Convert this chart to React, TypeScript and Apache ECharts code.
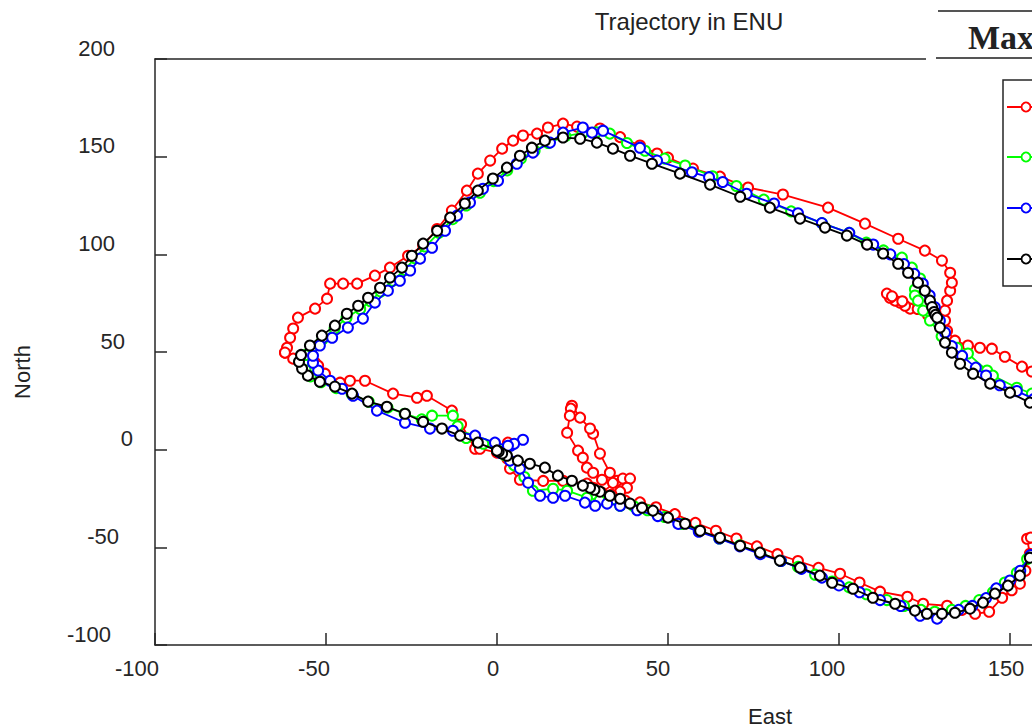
import React, { useEffect, useRef } from "react";
import * as echarts from "echarts";

// [East, North] samples for each trajectory
const redTrack: number[][] = [
  [-62.0, 49.7], [-59.6, 46.6], [-56.1, 45.0], [-53.2, 44.5], [-52.3, 43.0], [-50.3, 38.9], [-45.9, 34.3],
  [-43.0, 35.3], [-38.6, 35.3], [-30.4, 28.7], [-23.4, 26.6], [-20.5, 27.6], [-13.2, 20.0], [-10.5, 13.0],
  [-6.4, 0.5], [-5.0, 0.5], [0, -1.5], [3.2, 3.6], [3.0, -4.5], [3.8, -9.7], [6.7, -15.4], [13.5, -16.0],
  [19.3, -15.9], [26.3, -17.4], [28.1, -19.5], [30.7, -22.0],
  [35.1, -15.9], [33.0, -11.8], [30.1, -2.0], [28.1, 8.2], [27.2, 10.8], [24.3, 16.4], [21.9, 22.5],
  [21.6, 21.0], [21.3, 17.4], [20.5, 8.7], [23.7, -0.5], [25.1, -4.1], [26.3, -9.2], [28.1, -11.8],
  [30.7, -15.4], [33.9, -17.0], [36.8, -14.8], [38.9, -14.8], [38.0, -19.5], [36.0, -21.5], [33.5, -23.0],
  [37.5, -26.1], [41.8, -27.0], [46.5, -29.5], [52.0, -33.0], [58.0, -37.5], [64.0, -41.5], [70.0, -45.5],
  [76.0, -49.5], [82.0, -53.5], [88.0, -57.0], [94.0, -60.5], [100.3, -63.5], [106.0, -68.0], [112.0, -72.7],
  [120.0, -75.3], [124.6, -78.9], [131.6, -79.9], [136.0, -82.0], [139.8, -84.0], [143.9, -83.0],
  [147.7, -75.8], [150.5, -72.0], [152.9, -68.6], [154.5, -62.0], [155.8, -53.3], [155.0, -45.6], [156.1, -45.0],
  [163.0, -30.0], [168.0, -10.0], [166.0, 15.0], [161.0, 35.0],
  [156.4, 40.0], [153.5, 42.5], [148.5, 47.6], [144.7, 51.7], [141.2, 52.2], [137.7, 53.3], [133.9, 55.8],
  [131.6, 60.9], [131.0, 66.1],
  [126.0, 69.0], [120.8, 72.2], [119.3, 73.7], [117.8, 75.3], [116.4, 76.3], [114.9, 77.8], [114.0, 79.9],
  [115.5, 78.5], [118.5, 76.0], [123.0, 72.0], [128.0, 69.0],
  [131.0, 71.2], [131.6, 76.3], [132.5, 81.4], [133.0, 85.5], [132.5, 90.6], [130.1, 96.8], [125.1, 101.9],
  [117.3, 108.0], [107.6, 115.7], [96.8, 123.9], [83.6, 130.6], [73.4, 134.2], [65.2, 139.8], [57.3, 143.9],
  [50.0, 149.5], [46.8, 151.6], [41.8, 155.7], [36.0, 160.0], [30.1, 164.4], [23.4, 165.4], [19.3, 166.9],
  [14.9, 164.9], [11.7, 161.8], [7.6, 160.8], [4.7, 158.2], [1.5, 154.1], [-2.0, 148.0], [-5.6, 141.3],
  [-8.8, 132.6], [-13.2, 122.4], [-17.5, 113.0], [-21.6, 104.5], [-26.0, 99.3], [-31.3, 93.2], [-35.7, 89.1],
  [-40.9, 85.0], [-45.0, 85.0], [-48.8, 85.0], [-49.7, 77.3], [-53.2, 72.2], [-58.2, 67.6], [-59.6, 62.0],
  [-60.5, 57.3], [-61.4, 52.2], [-62.0, 49.7],
];

const greenTrack: number[][] = [
  [0, 0], [-4.0, 3.0], [-9.0, 6.0], [-11.5, 12.0], [-12.9, 17.4], [-19.0, 17.4], [-22.0, 15.5], [-27.0, 18.4],
  [-32.0, 21.5], [-37.5, 24.5], [-42.5, 28.5], [-47.0, 31.5], [-51.5, 34.5], [-54.5, 37.5], [-56.0, 41.0],
  [-56.5, 45.0], [-56.0, 48.5], [-54.0, 52.5], [-51.0, 56.5], [-47.5, 62.0], [-44.0, 67.5], [-40.0, 72.0],
  [-37.0, 76.0], [-34.0, 81.0], [-30.5, 86.5], [-27.0, 92.0], [-24.0, 98.0], [-21.0, 104.0], [-17.0, 111.0],
  [-13.0, 118.0], [-9.0, 125.0], [-5.0, 131.5], [-1.0, 137.5], [3.0, 143.0], [7.0, 149.0], [11.0, 153.0],
  [15.0, 157.0], [20.0, 160.5], [25.0, 162.0], [29.0, 162.5], [33.0, 161.8], [38.0, 157.0], [43.3, 153.0],
  [49.0, 149.0], [55.0, 145.5], [63.0, 140.0], [70.0, 135.0], [78.0, 128.0], [86.0, 122.0], [95.0, 116.0],
  [103.0, 111.0], [108.0, 106.0], [113.0, 102.0], [118.4, 98.3], [121.3, 93.2], [123.7, 87.6], [122.2, 82.0],
  [122.2, 78.9], [123.1, 76.3], [124.6, 71.2], [126.6, 66.1], [130.0, 58.0], [134.5, 52.2], [137.7, 49.2],
  [143.3, 40.5], [145.0, 37.9], [152.0, 31.7], [156.4, 28.7],
  [164.0, 22.0], [171.0, 10.0], [174.0, -5.0], [173.0, -25.0], [168.0, -42.0], [160.0, -50.0],
  [155.0, -56.0], [152.0, -63.0], [148.5, -68.0], [145.0, -73.0], [141.0, -77.0], [137.0, -80.0],
  [133.0, -82.0], [128.0, -83.0], [124.0, -82.0], [119.0, -80.0], [114.0, -77.0], [108.0, -74.0],
  [103.0, -70.5], [98.0, -67.5], [93.0, -64.0], [88.0, -60.0], [83.0, -57.0], [77.0, -53.0], [71.0, -49.0],
  [65.0, -45.5], [59.0, -41.5], [54.0, -38.0], [49.0, -34.5], [44.0, -31.0], [40.0, -29.0], [36.0, -28.7],
  [30.0, -26.0], [26.3, -24.6], [20.5, -21.0], [16.4, -20.0], [10.5, -21.0], [8.0, -14.0], [5.0, -8.0],
  [2.5, -3.0], [0, 0],
];

const blueTrack: number[][] = [
  [0.9, -1.5], [2.0, -1.0], [4.0, 2.0], [7.6, 5.1], [5.0, 3.0], [3.2, 2.0], [-0.6, 3.6], [-6.4, 7.2],
  [-12.9, 9.7], [-19.6, 10.8], [-26.9, 13.8], [-35.1, 20.0], [-42.1, 27.6], [-45.3, 31.2], [-48.8, 35.3],
  [-52.3, 40.5], [-53.8, 44.5], [-53.8, 48.1], [-51.8, 53.3], [-48.2, 57.3], [-43.6, 62.5], [-39.2, 67.1],
  [-35.7, 75.3], [-31.9, 81.4], [-28.4, 86.5], [-25.4, 91.7], [-22.5, 97.8], [-19.0, 103.4], [-15.2, 112.1],
  [-11.7, 119.8], [-7.9, 126.5], [-4.1, 133.6], [0.3, 137.7], [5.8, 146.4], [10.5, 152.1], [15.5, 157.2],
  [19.3, 162.3], [25.1, 164.9], [27.8, 162.3], [31.0, 163.3], [41.8, 154.6], [46.8, 148.0], [57.0, 142.0],
  [62.0, 139.5], [66.0, 137.0], [73.0, 131.0], [81.0, 126.0], [88.0, 121.0], [95.0, 116.0], [103.0, 111.0],
  [110.0, 105.0], [115.0, 100.0], [119.0, 95.0], [122.0, 90.0], [124.5, 85.0], [126.5, 79.0], [128.0, 73.0],
  [129.5, 66.0], [131.0, 60.0], [133.0, 53.0], [136.0, 48.0], [140.0, 42.0], [143.0, 38.0], [147.0, 33.0],
  [152.0, 30.0], [157.0, 26.0],
  [165.0, 18.0], [172.0, 6.0], [175.0, -10.0], [174.0, -28.0], [168.0, -44.0], [161.0, -50.0],
  [156.0, -54.0], [153.0, -62.0], [150.0, -67.0], [146.0, -71.0], [143.0, -76.0], [139.0, -80.0],
  [135.0, -82.0], [128.7, -86.5], [123.7, -85.0], [118.0, -80.0], [112.0, -77.0], [106.0, -73.0],
  [100.0, -69.5], [95.0, -65.5], [89.0, -61.0], [83.0, -57.0], [77.0, -53.5], [71.0, -49.5], [65.0, -45.5],
  [59.0, -42.0], [53.0, -38.0], [47.0, -34.0], [41.0, -31.0], [36.0, -28.7], [32.2, -27.6], [28.7, -28.7],
  [25.7, -27.1], [19.9, -23.6], [16.4, -24.6], [12.6, -23.6], [9.1, -16.9], [6.7, -9.7], [3.8, -5.6],
  [0.9, -1.5],
];

const blackTrack: number[][] = [
  [0, -0.5], [-5.6, 3.6], [-10.8, 7.2], [-16.1, 10.8], [-21.6, 14.3], [-26.9, 18.4], [-32.2, 22.0],
  [-37.7, 24.6], [-42.4, 28.7], [-47.4, 32.3], [-51.8, 34.8], [-55.3, 37.9], [-57.0, 41.5], [-57.9, 45.0],
  [-57.3, 48.5], [-54.7, 53.3], [-51.2, 58.4], [-47.4, 63.5], [-43.9, 69.6], [-40.6, 73.7], [-37.7, 77.8],
  [-34.2, 82.9], [-31.3, 88.1], [-27.8, 93.2], [-24.9, 99.3], [-21.6, 105.5], [-17.5, 112.1], [-13.7, 118.8],
  [-9.4, 126.0], [-5.6, 132.6], [-1.2, 138.8], [2.9, 144.4], [6.7, 150.5], [10.2, 154.6], [14.0, 158.2],
  [19.3, 159.8], [24.3, 159.2], [29.2, 157.2], [33.9, 154.1], [38.9, 150.5], [45.3, 146.4], [53.5, 141.3],
  [62.3, 135.7], [71.1, 129.5], [79.8, 123.9], [88.6, 118.3], [95.9, 113.7], [102.3, 109.6], [108.2, 105.0],
  [112.9, 100.4], [117.3, 95.2], [120.2, 90.6], [123.1, 85.5], [125.1, 81.4], [126.6, 76.3], [127.2, 73.0],
  [127.8, 70.5], [128.2, 69.0], [128.7, 67.6], [129.5, 62.5], [131.0, 54.8], [133.0, 49.7], [135.4, 44.0],
  [139.2, 38.9], [144.2, 33.8], [150.0, 29.2], [155.8, 24.1],
  [163.0, 18.0], [170.0, 8.0], [175.0, -5.0], [175.0, -20.0], [172.0, -35.0], [165.0, -46.0], [160.0, -50.0],
  [155.8, -55.3], [152.9, -64.5], [149.4, -69.6], [145.6, -73.7], [142.1, -78.3], [138.3, -81.4],
  [133.9, -83.5], [130.1, -84.0], [125.7, -84.0], [122.2, -82.4], [116.4, -78.9], [109.9, -75.8],
  [104.1, -71.2], [98.0, -68.1], [94.4, -64.5], [88.6, -60.4], [82.7, -56.8], [76.9, -52.7], [71.1, -49.2],
  [65.2, -45.1], [59.4, -41.5], [55.0, -37.9], [50.0, -34.8], [45.6, -31.2], [42.4, -29.7], [38.9, -27.6],
  [36.0, -25.1], [33.0, -23.6], [30.1, -21.5], [28.5, -20.5], [27.2, -19.5], [25.1, -18.4], [21.9, -15.9],
  [17.8, -13.3], [14.0, -9.2], [9.6, -7.2], [6.1, -5.6], [2.9, -3.1], [1.5, -2.0], [0.5, -1.0], [0, -0.5],
];

const seriesNames = ["Trajectory 1", "Trajectory 2", "Trajectory 3", "Trajectory 4"];
const seriesColors = ["#ff0000", "#00ff00", "#0000ff", "#000000"];
const tracks = [redTrack, greenTrack, blueTrack, blackTrack];

// tick labels shown, with the horizontal shifts of the tick texts as drawn in the reference
const xLabelShift: Record<string, number> = { "-100": 18, "-50": 12, "0": 4, "50": 10, "100": 12, "150": 4 };
const yLabelPadRight: Record<string, number> = { "200": 18, "150": 18, "100": 18, "50": 8, "0": 0, "-50": 14, "-100": 22 };

const FONT = "'Liberation Sans', Arial, Helvetica, sans-serif";
const AXIS = "#262626";

export default function App() {
  const ref = useRef<HTMLDivElement>(null);
  useEffect(() => {
    const chart = echarts.init(ref.current!, null, { renderer: "svg" });
    const legendYs = [107, 157, 208, 259];
    const legendGraphics: any[] = [
      {
        type: "rect",
        shape: { x: 1003, y: 80, width: 120, height: 206 },
        style: { fill: "#fff", stroke: AXIS, lineWidth: 1.5 },
        z: 10,
      },
    ];
    legendYs.forEach((y, i) => {
      legendGraphics.push({
        type: "line",
        shape: { x1: 1007, y1: y, x2: 1045, y2: y },
        style: { stroke: seriesColors[i], lineWidth: 1.8 },
        z: 11,
      });
      legendGraphics.push({
        type: "circle",
        shape: { cx: 1026, cy: y, r: 4.5 },
        style: { fill: "#fff", stroke: seriesColors[i], lineWidth: 1.8 },
        z: 12,
      });
    });

    const xRich: any = {};
    const xKeys = Object.keys(xLabelShift);
    xKeys.forEach((k, i) => {
      xRich["x" + i] = { padding: [0, 2 * xLabelShift[k], 0, 0], fontSize: 22, fontFamily: FONT, color: AXIS };
    });
    const yRich: any = {};
    const yKeys = Object.keys(yLabelPadRight);
    yKeys.forEach((k, i) => {
      yRich["y" + i] = { padding: [0, yLabelPadRight[k], 0, 0], fontSize: 22, fontFamily: FONT, color: AXIS };
    });

    chart.setOption({
      animation: false,
      backgroundColor: "#fff",
      grid: {
        left: 155,
        top: 59,
        right: -149,
        bottom: 81,
        containLabel: false,
        outerBoundsMode: "none",
      },
      xAxis: [
        {
          type: "value",
          min: -100,
          max: 200,
          interval: 50,
          position: "bottom",
          axisLine: { show: true, onZero: false, lineStyle: { color: AXIS, width: 1.5 } },
          axisTick: { show: true, inside: true, length: 12, lineStyle: { color: AXIS, width: 1.5 } },
          axisLabel: {
            margin: 12,
            formatter: (v: number) => {
              const idx = xKeys.indexOf(String(v));
              return idx >= 0 ? `{x${idx}|${v}}` : "";
            },
            rich: xRich,
            fontSize: 22,
            fontFamily: FONT,
            color: AXIS,
          },
          splitLine: { show: false },
        },
        {
          type: "value",
          min: -100,
          max: 200,
          interval: 50,
          position: "top",
          axisLine: { show: true, onZero: false, lineStyle: { color: AXIS, width: 1.5 } },
          axisTick: { show: false },
          axisLabel: { show: false },
          splitLine: { show: false },
        },
      ],
      yAxis: {
        type: "value",
        min: -100,
        max: 200,
        interval: 50,
        axisLine: { show: true, onZero: false, lineStyle: { color: AXIS, width: 1.5 } },
        axisTick: { show: true, inside: true, length: 12, lineStyle: { color: AXIS, width: 1.5 } },
        axisLabel: {
          margin: 22,
          verticalAlign: "bottom",
          formatter: (v: number) => {
            const idx = yKeys.indexOf(String(v));
            return idx >= 0 ? `{y${idx}|${v}}` : String(v);
          },
          rich: yRich,
          fontSize: 22,
          fontFamily: FONT,
          color: AXIS,
        },
        splitLine: { show: false },
      },
      series: tracks.map((t, i) => ({
        name: seriesNames[i],
        type: "line",
        data: t,
        xAxisIndex: 0,
        symbol: "emptyCircle",
        symbolSize: 10,
        showAllSymbol: true,
        clip: true,
        lineStyle: { color: seriesColors[i], width: 1.8 },
        itemStyle: { color: seriesColors[i], borderColor: seriesColors[i], borderWidth: 1.8 },
        z: 2 + i,
      })),
      graphic: [
        {
          type: "text",
          x: 689,
          y: 21,
          style: {
            text: "Trajectory in ENU",
            font: `24px ${FONT}`,
            fill: "#222",
            textAlign: "center",
            textVerticalAlign: "middle",
          },
        },
        {
          type: "text",
          x: 22,
          y: 372,
          rotation: Math.PI / 2,
          style: {
            text: "North",
            font: `22px ${FONT}`,
            fill: "#222",
            textAlign: "center",
            textVerticalAlign: "middle",
          },
        },
        {
          type: "text",
          x: 770,
          y: 716,
          style: {
            text: "East",
            font: `22px ${FONT}`,
            fill: "#222",
            textAlign: "center",
            textVerticalAlign: "middle",
          },
        },
        ...legendGraphics,
        {
          type: "rect",
          shape: { x: 926, y: 0, width: 106, height: 62 },
          style: { fill: "#fff" },
          z: 20,
        },
        {
          type: "line",
          shape: { x1: 938, y1: 11, x2: 1032, y2: 11 },
          style: { stroke: "#555", lineWidth: 2 },
          z: 21,
        },
        {
          type: "line",
          shape: { x1: 936, y1: 58, x2: 1032, y2: 58 },
          style: { stroke: "#555", lineWidth: 2 },
          z: 21,
        },
        {
          type: "text",
          x: 968,
          y: 37,
          style: {
            text: "Max",
            font: `bold 34px 'Liberation Serif', 'Times New Roman', serif`,
            fill: "#222",
            textAlign: "left",
            textVerticalAlign: "middle",
          },
          z: 22,
        },
      ],
    });
    return () => chart.dispose();
  }, []);
  return (
    <div
      ref={ref}
      style={{ width: 1032, height: 726, position: "absolute", left: 0, top: 0 }}
    />
  );
}
